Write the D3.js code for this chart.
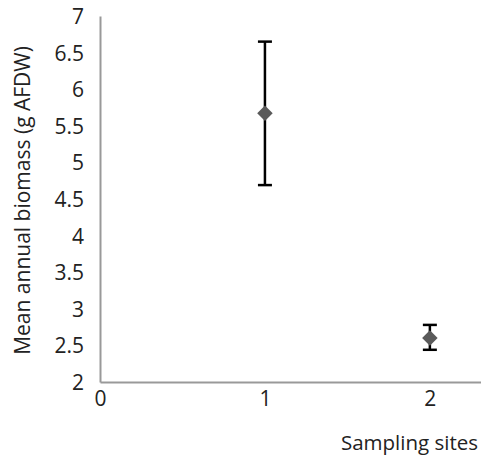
<!DOCTYPE html>
<html>
<head>
<meta charset="utf-8">
<script src="https://cdn.jsdelivr.net/npm/d3@7"></script>
<style>
body { margin: 0; background: #fff; }
text { font-family: "Open Sans", sans-serif; fill: #222; }
</style>
</head>
<body>
<svg width="481" height="461"></svg>
<script>
var sites = [1, 2];
var means = [5.67, 2.60];
var errHigh = [6.65, 2.78];
var errLow = [4.69, 2.44];
var yTicks = [2, 2.5, 3, 3.5, 4, 4.5, 5, 5.5, 6, 6.5, 7];
var xTicks = [0, 1, 2];

var svg = d3.select("svg"),
    width = +svg.attr("width"),
    height = +svg.attr("height");

var x = d3.scaleLinear().domain([0, 2.31]).range([100, 481]);
var y = d3.scaleLinear().domain([2, 7]).range([382, 16]);

// axes, drawn as plain lines like the original
var yAxis = svg.append("g")
    .attr("transform", "translate(100,0)")
    .call(d3.axisLeft(y).tickValues(yTicks).tickSize(0).tickPadding(16)
        .tickFormat(function(d) { return String(d); }));
yAxis.select(".domain").attr("stroke", "#999").attr("stroke-width", 2);
yAxis.selectAll("text").style("font-size", "21px").attr("dy", "0.36em");

var xAxis = svg.append("g")
    .attr("transform", "translate(0,382)")
    .call(d3.axisBottom(x).tickValues(xTicks).tickSize(0).tickPadding(9)
        .tickFormat(d3.format("d")));
xAxis.select(".domain").attr("stroke", "#999").attr("stroke-width", 2);
xAxis.selectAll("text").style("font-size", "21px");

svg.append("text")
    .attr("transform", "translate(22," + y(4.48) + ") rotate(-90)")
    .attr("text-anchor", "middle")
    .attr("dy", "0.36em")
    .style("font-size", "21px")
    .text("Mean annual biomass (g AFDW)");

svg.append("text")
    .attr("x", 478)
    .attr("y", 450)
    .attr("text-anchor", "end")
    .style("font-size", "20.5px")
    .text("Sampling sites");

var pts = sites.map(function(s, i) {
    return {site: s, mean: means[i], hi: errHigh[i], lo: errLow[i]};
});

var g = svg.selectAll(".pt").data(pts).enter().append("g").attr("class", "pt");

g.append("line")
    .attr("x1", function(d) { return x(d.site); })
    .attr("x2", function(d) { return x(d.site); })
    .attr("y1", function(d) { return y(d.hi); })
    .attr("y2", function(d) { return y(d.lo); })
    .attr("stroke", "#000").attr("stroke-width", 2.5);

["hi", "lo"].forEach(function(k) {
    g.append("line")
        .attr("x1", function(d) { return x(d.site) - 7; })
        .attr("x2", function(d) { return x(d.site) + 7; })
        .attr("y1", function(d) { return y(d[k]); })
        .attr("y2", function(d) { return y(d[k]); })
        .attr("stroke", "#000").attr("stroke-width", 2.5);
});

g.append("path")
    .attr("d", d3.symbol().type(d3.symbolSquare).size(120))
    .attr("transform", function(d) {
        return "translate(" + x(d.site) + "," + y(d.mean) + ") rotate(45)";
    })
    .attr("fill", "#5a5a5a");
</script>
</body>
</html>
